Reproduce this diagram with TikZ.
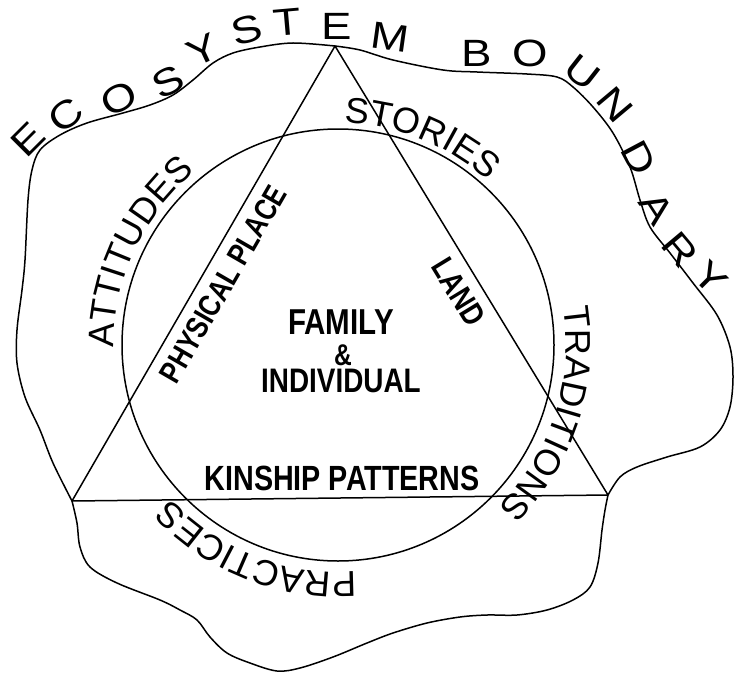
\documentclass[tikz,border=0pt]{standalone}
\usepackage{fontspec}
\setmainfont{Liberation Sans}
\newfontfamily\condbf[FakeStretch=0.82]{Liberation Sans}
\newfontfamily\ecofont[FakeStretch=1.2]{Liberation Sans}
\usetikzlibrary{decorations.text}
\begin{document}
\begin{tikzpicture}[x=1pt,y=1pt,
  line/.style={line width=1.5pt, line join=round},
  eco/.style={inner sep=0pt, font=\ecofont\fontsize{38}{38}\selectfont},
  boldlbl/.style={inner sep=0pt, font=\condbf\bfseries\fontsize{34}{34}\selectfont},
  ringlbl/.style={decorate, decoration={text along path, text align=center, text={#1}}}
]
\fill[white] (0,0) rectangle (735,-674);
\useasboundingbox (0,0) rectangle (735,-674);

% triangle vertices and circle centre
\coordinate (top) at (335,-46);
\coordinate (bl) at (72,-501);
\coordinate (br) at (608,-495);
\coordinate (c) at (338,-345);

% ecosystem boundary (three smooth pieces joined at the vertices)
\draw[line] plot[smooth, tension=0.55] coordinates {
 (72,-501) (53,-463) (40,-430) (25,-397) (17,-363) (17,-330) (22,-290) (25,-260)
 (28,-200) (32,-170) (40,-150) (60,-135) (87,-123) (123,-113) (150,-105) (173,-95)
 (193,-80) (213,-63) (233,-53) (260,-47) (293,-43) (335,-46)};
\draw[line] plot[smooth, tension=0.55] coordinates {
 (335,-46) (360,-50) (393,-60) (443,-70) (477,-72) (527,-74) (557,-77) (573,-87)
 (593,-107) (613,-133) (630,-167) (640,-200) (650,-227) (670,-253) (693,-283)
 (717,-315) (730,-347) (733,-377) (730,-407) (720,-430) (700,-447) (667,-457)
 (637,-467) (620,-477) (608,-495)};
\draw[line] plot[smooth, tension=0.55] coordinates {
 (608,-495) (605,-510) (602,-530) (598,-563) (590,-587) (573,-600) (547,-610)
 (517,-615) (487,-615) (460,-617) (427,-623) (393,-633) (367,-643) (333,-657)
 (300,-668) (277,-671) (250,-663) (227,-653) (210,-637) (197,-620) (180,-610)
 (160,-600) (117,-583) (90,-567) (80,-547) (77,-523) (72,-501)};

% circle and triangle
\draw[line] (c) circle[radius=216];
\draw[line] (top) -- (bl) -- (br) -- cycle;

% ECOSYSTEM BOUNDARY letters
\foreach \l/\x/\y/\r [count=\i] in {E/28/140/45, C/66/115/37, O/119/99/28, S/168/82/27,
  Y/203/50/25, S/247/30/15, T/287/22/5, E/337/26/0, M/390/37/-8, B/477/53/0,
  O/530/53/0, U/582/72/-38, N/615/105/-50, D/639/158/-62, A/657/208/-57,
  R/680/250/-50, Y/710/278/-45}
  \node[eco, rotate=\r] (eco\i) at (\x,-\y) {\l};

% ring labels
\path[ringlbl={|\fontsize{36}{36}\selectfont|ATTITUDES}]
  (c) ++(195:224) arc[start angle=195, end angle=115, radius=224];
\path[ringlbl={|\fontsize{36}{36}\selectfont|STORIES}]
  (c) ++(108:222) arc[start angle=108, end angle=28, radius=222];
\path[ringlbl={|\fontsize{36}{36}\selectfont|TRADITIONS}]
  (c) ++(25:228) arc[start angle=25, end angle=-61, radius=228];
\path[ringlbl={|\fontsize{36}{36}\selectfont|PRACTICES}]
  (c) ++(-70:227) arc[start angle=-70, end angle=-153, radius=227];

% inner labels
\node[boldlbl, font=\condbf\bfseries\fontsize{36}{36}\selectfont] (fam) at (341,-322) {FAMILY};
\node[boldlbl, font=\condbf\bfseries\fontsize{30}{30}\selectfont] (amp) at (343,-355) {\&};
\node[boldlbl] (ind) at (341,-381) {INDIVIDUAL};
\node[boldlbl, font=\condbf\bfseries\fontsize{35}{35}\selectfont] (kin) at (342,-478) {KINSHIP PATTERNS};
\node[boldlbl, font=\condbf\bfseries\fontsize{31}{31}\selectfont, rotate=60] (phys) at (223,-284) {PHYSICAL PLACE};
\node[boldlbl, font=\condbf\bfseries\fontsize{32}{32}\selectfont, rotate=-58.6] (land) at (459,-292) {LAND};
\end{tikzpicture}
\end{document}
